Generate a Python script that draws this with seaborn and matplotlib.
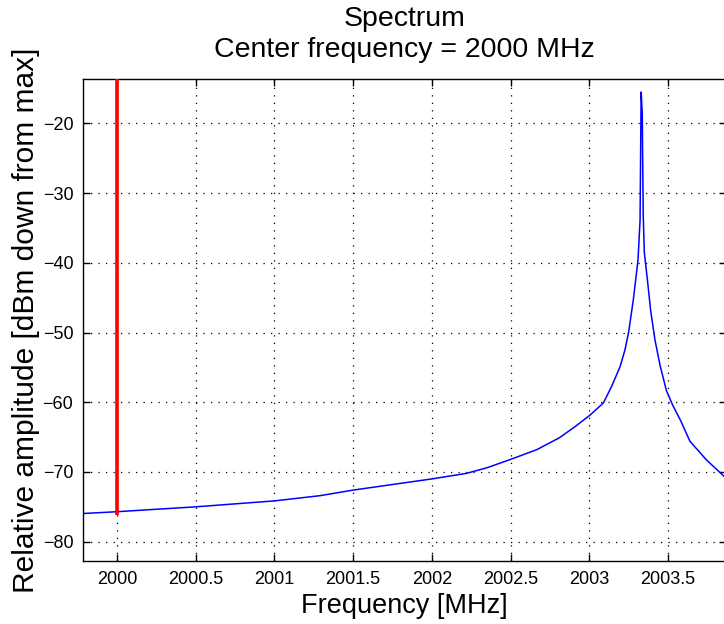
import numpy as np
import pandas as pd
import matplotlib
matplotlib.use("Agg")
import matplotlib.pyplot as plt
import seaborn as sns

# values
freq_mhz = [1999.784, 2000.0, 2000.5, 2001.0, 2001.29, 2001.5, 2002.0, 2002.22,
            2002.35, 2002.5, 2002.667, 2002.81, 2002.91, 2003.005, 2003.09,
            2003.143, 2003.196, 2003.227, 2003.25, 2003.28, 2003.31, 2003.323,
            2003.330, 2003.337, 2003.343, 2003.35, 2003.37, 2003.39, 2003.418,
            2003.45, 2003.49, 2003.53, 2003.58, 2003.64, 2003.746, 2003.87]
amp_db = [-75.96, -75.7, -75.0, -74.15, -73.4, -72.6, -71.0, -70.2,
          -69.4, -68.2, -66.8, -65.1, -63.5, -61.85, -60.1,
          -57.7, -54.9, -52.5, -50.0, -45.35, -39.6, -33.9,
          -15.5, -18.6, -33.0, -38.5, -42.5, -46.8, -51.1,
          -54.7, -58.3, -60.4, -62.6, -65.6, -68.3, -70.9]
marker_freq = 2000.0
marker_bottom = -76.2

x_ticks = [2000, 2000.5, 2001, 2001.5, 2002, 2002.5, 2003, 2003.5]
x_labels = ["2000", "2000.5", "2001", "2001.5", "2002", "2002.5", "2003", "2003.5"]
y_ticks = [-80, -70, -60, -50, -40, -30, -20]

df = pd.DataFrame({"freq": freq_mhz, "amp": amp_db})

sns.set_style("ticks")
plt.rcParams['font.family'] = ['Liberation Sans', 'DejaVu Sans']
plt.rcParams['text.color'] = 'black'
plt.rcParams['axes.labelcolor'] = 'black'

fig = plt.figure(figsize=(7.24, 6.24), dpi=100)
ax = fig.add_axes([83 / 724, 63 / 624, 643 / 724, 482 / 624])

sns.lineplot(data=df, x="freq", y="amp", ax=ax, color="#0000FF", linewidth=1.1)
ax.vlines(marker_freq, marker_bottom, 0, color="#FF0000", linewidth=2.6, zorder=3)

ax.set_xlim(1999.784, 2003.869)
ax.set_ylim(-82.77, -13.64)
ax.set_xticks(x_ticks)
ax.set_xticklabels(x_labels)
ax.set_yticks(y_ticks)

ax.grid(True, color="black", linestyle=(0, (1, 5)), linewidth=0.9)
ax.tick_params(direction="in", length=5, width=1, labelsize=13, pad=7,
               top=True, right=True, colors="black")
for sp in ax.spines.values():
    sp.set_color("black")
    sp.set_linewidth(1.0)

ax.set_xlabel("Frequency [MHz]", fontsize=19.5, labelpad=4)
ax.set_ylabel("Relative amplitude [dBm down from max]", fontsize=21.5, labelpad=2)
ax.set_title("Spectrum\nCenter frequency = 2000 MHz", fontsize=20.5, pad=16,
             linespacing=1.25)

fig.savefig("out.png", dpi=100)
